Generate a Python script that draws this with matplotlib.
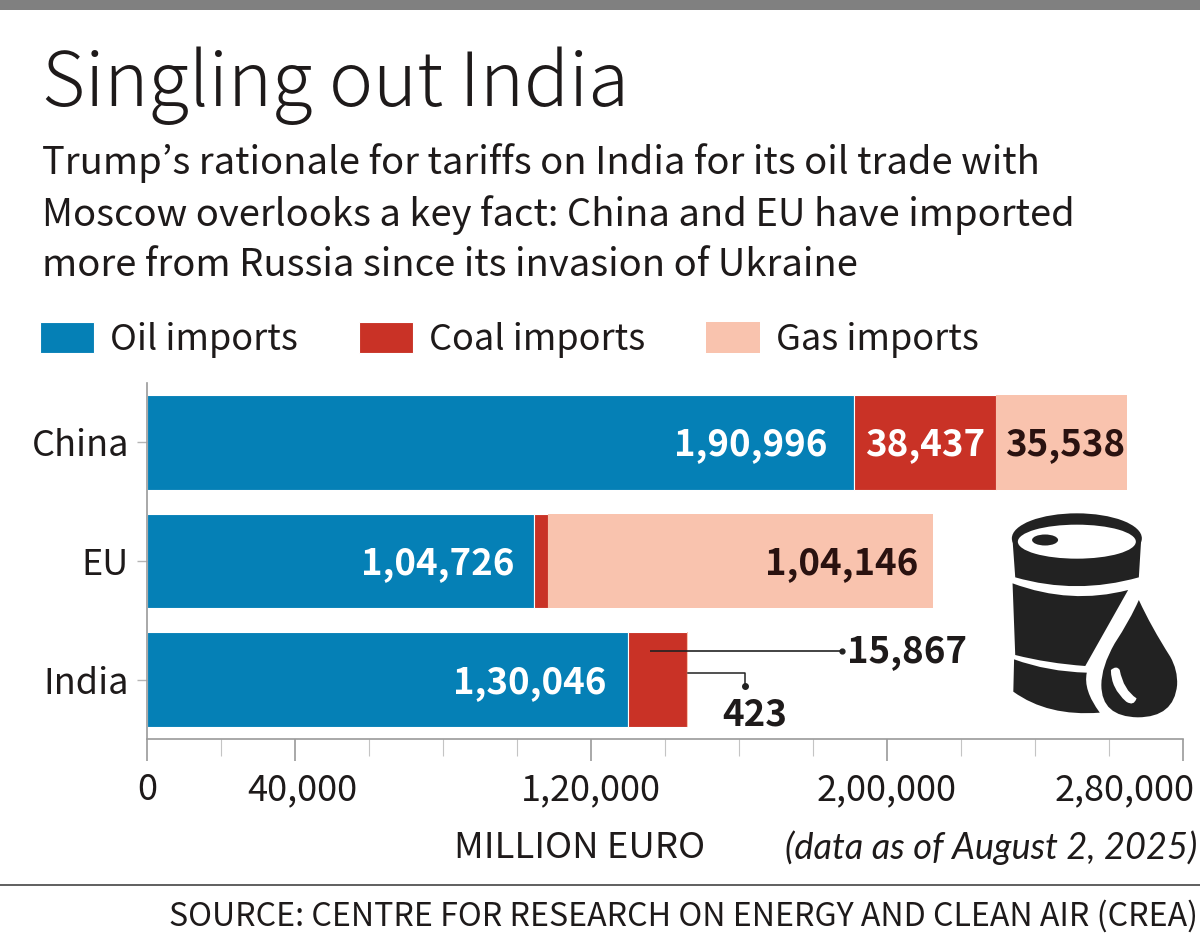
import matplotlib
matplotlib.use("Agg")
import matplotlib.pyplot as plt
from matplotlib.patches import Ellipse, PathPatch, Rectangle
from matplotlib.path import Path
from matplotlib.transforms import ScaledTranslation

FONT = ["Noto Sans CJK JP", "DejaVu Sans"]
plt.rcParams["font.family"] = FONT

regions = ["China", "EU", "India"]
oil = [190996, 104726, 130046]
coal = [38437, 3560, 15867]
gas = [35538, 104146, 423]
oil_labels = ["1,90,996", "1,04,726", "1,30,046"]
xticks_major = [0, 40000, 120000, 200000, 280000]
xtick_labels = ["0", "40,000", "1,20,000", "2,00,000", "2,80,000"]
xticks_minor = [20000, 60000, 80000, 100000, 140000, 160000, 180000, 220000, 240000, 260000]

OIL, COAL, GAS, INK = "#0580B6", "#C93226", "#F9C3AE", "#1E1A1A"
W, H = 1200, 934
fig = plt.figure(figsize=(W / 100, H / 100), dpi=100, facecolor="white")

# pixel-space overlay for furniture
ov = fig.add_axes([0, 0, 1, 1], zorder=3)
ov.set_xlim(0, W); ov.set_ylim(H, 0); ov.axis("off"); ov.patch.set_alpha(0)

ax = fig.add_axes([147 / W, 1 - 739 / H, (1183 - 147) / W, (739 - 383) / H], zorder=1)
ax.set_xlim(0, 280000); ax.set_ylim(2.5, -0.5)
h = 0.8
left2 = [a + b for a, b in zip(oil, coal)]
b1 = ax.barh(regions, oil, height=h, color=OIL, edgecolor="white", linewidth=0.8, label="Oil imports")
b2 = ax.barh(regions, coal, left=oil, height=h, color=COAL, edgecolor="white", linewidth=0.8, label="Coal imports")
b3 = ax.barh(regions, gas, left=left2, height=h, color=GAS, edgecolor="none", label="Gas imports")

for s in ("top", "right"):
    ax.spines[s].set_visible(False)
for s in ("left", "bottom"):
    ax.spines[s].set_color("#9a9a9a"); ax.spines[s].set_linewidth(1.2)
ax.set_xticks(xticks_major, xtick_labels)
ax.set_xticks(xticks_minor, minor=True)
ax.tick_params(axis="x", which="major", length=16, width=1.2, color="#9a9a9a", labelsize=26, labelcolor=INK, pad=8)
ax.tick_params(axis="x", which="minor", length=12, width=0.8, color="#c4c4c4")
ax.tick_params(axis="y", length=7, width=1, color="#b5b5b5", labelsize=26, labelcolor=INK, pad=6)
labels = ax.get_xticklabels()
labels[1].set_transform(labels[1].get_transform() + ScaledTranslation(0.07, 0, fig.dpi_scale_trans))
labels[-1].set_ha("right")
labels[-1].set_transform(labels[-1].get_transform() + ScaledTranslation(0.12, 0, fig.dpi_scale_trans))

VAL = dict(fontsize=26.4, fontweight="bold", va="center")
for i, (lab, off) in enumerate(zip(oil_labels, (7200, 5540, 5950))):
    ax.text(oil[i] - off, i + 0.02, lab, color="white", ha="right", **VAL)
ax.text(oil[0] + coal[0] / 2, 0.02, "38,437", color="white", ha="center", **VAL)
ax.text(left2[0] + gas[0] - 500, 0.02, "35,538", color="#2A1210", ha="right", **VAL)
ax.text(left2[1] + gas[1] - 4000, 1.02, "1,04,146", color="#2A1210", ha="right", **VAL)

# India call-outs
ov.plot([650, 842], [651, 651], color="#222", lw=1.2, solid_capstyle="butt")
ov.plot([842], [651], "o", color="#222", ms=3.5)
ov.plot([688, 745, 745], [673, 673, 686], color="#222", lw=1.1)
ov.plot([745], [686], "o", color="#222", ms=4)
ov.text(847, 652, "15,867", color=INK, ha="left", **VAL)
ov.text(722, 715, "423", color=INK, ha="left", **VAL)

# header
ov.add_patch(Rectangle((0, 0), W, 10, color="#808080", lw=0))
ov.text(42, 106, "Singling out India", fontsize=53.6, fontweight="light", color=INK, va="baseline")
for y, line in zip((163, 215, 266), (
        "Trump\u2019s rationale for tariffs on India for its oil trade with",
        "Moscow overlooks a key fact: China and EU have imported",
        "more from Russia since its invasion of Ukraine")):
    ov.text(42, y, line, fontsize=27.5, color=INK, va="center")

fig.legend(handles=[b1, b2, b3], loc="upper left", bbox_to_anchor=(40 / W, 1 - 322 / H), ncols=3,
           frameon=False, fontsize=26, borderpad=0, borderaxespad=0, handlelength=54 / 36.1,
           handleheight=33 / 36.1, handletextpad=16 / 36.1, columnspacing=61 / 36.1,
           labelcolor=INK)

# footer
ov.text(580, 848, "MILLION EURO", fontsize=26.3, color=INK, ha="center", va="center")
ov.text(1197, 848, "(data as of August 2, 2025)", fontsize=26, color=INK, ha="right", va="center",
        family="Lato", style="italic")
ov.plot([0, W], [885, 885], color="#444", lw=1.2)
ov.text(1198, 916, "SOURCE: CENTRE FOR RESEARCH ON ENERGY AND CLEAN AIR (CREA)", fontsize=23.15,
        color=INK, ha="right", va="center")

# oil-barrel icon (zoom-crop coordinates mapped to pixels)
def z(x, y):
    return (600 + x / 2.613, 370 + y / 3)

def shape(cmds, color):
    verts, codes = [], []
    for c in cmds:
        if len(c) == 1:
            verts.append(z(*c[0])); codes.append(Path.LINETO if codes else Path.MOVETO)
        else:
            for p in c:
                verts.append(z(*p)); codes.append(Path.CURVE3)
    verts.append(verts[0]); codes.append(Path.CLOSEPOLY)
    ov.add_patch(PathPatch(Path(verts, codes), facecolor=color, edgecolor="none"))

DK = "#222222"
ov.add_patch(Ellipse(z(1246, 505), 130, 50, color=DK, lw=0))
shape([[(1078, 510)], [(1414, 510)], [(1408, 622)], [(1245, 675), (1085, 622)]], DK)
ov.add_patch(Ellipse(z(1246, 515), 118, 34, color="white", lw=0))
ov.add_patch(Ellipse(z(1163, 510), 26, 11, color=DK, lw=0))
shape([[(1078, 640)], [(1230, 705), (1380, 660)], [(1268, 888)], [(1170, 880), (1085, 855)]], DK)
shape([[(1082, 868)], [(1170, 905), (1272, 908)], [(1262, 960), (1306, 1028)], [(1170, 1040), (1080, 965)]], DK)
shape([[(1408, 690)], [(1440, 770), (1490, 860)], [(1510, 900), (1508, 945)], [(1500, 1042), (1405, 1042)],
       [(1310, 1040), (1310, 945)], [(1310, 890), (1345, 820)], [(1385, 750), (1408, 690)]], DK)
shape([[(1335, 900)], [(1350, 885), (1358, 900)], [(1368, 960), (1402, 985)], [(1395, 1010), (1375, 995)],
       [(1335, 955), (1335, 900)]], "white")

fig.savefig("out.png", dpi=100, facecolor="white")
